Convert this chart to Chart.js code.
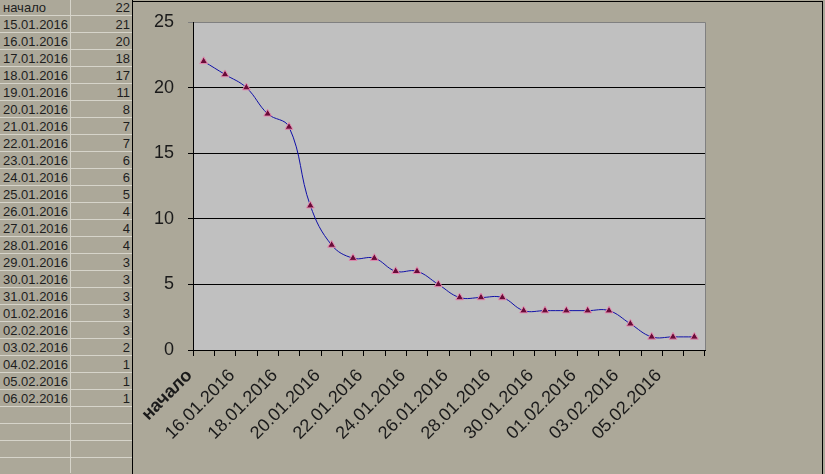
<!DOCTYPE html>
<html>
<head>
<meta charset="utf-8">
<script src="https://cdn.jsdelivr.net/npm/chart.js@4/dist/chart.umd.min.js"></script>
<style>
  html, body { margin:0; padding:0; width:825px; height:474px; overflow:hidden; background:#aca899; }
  #sheet { position:absolute; left:0; top:-1px; width:132px; height:480px; font-family:"Liberation Sans", Arial, sans-serif; font-size:13px; color:#1e1e1e; }
  .row { position:absolute; left:0; width:132px; height:16px; border-bottom:1px solid #d6d4ca; }
  .row .a { position:absolute; left:3px; top:1px; line-height:16px; }
  .row .b { position:absolute; right:2px; top:1px; line-height:16px; }
  #colline { position:absolute; left:70px; top:0; width:1px; height:474px; background:#d6d4ca; }
  #vline { position:absolute; left:132px; top:0; width:1px; height:474px; background:#000; }
  #box { position:absolute; left:133px; top:2px; width:689px; height:472px; }
  #topline { position:absolute; left:132px; top:1px; width:691px; height:1px; background:#000; }
  #rline { position:absolute; left:822px; top:1px; width:1px; height:473px; background:#000; }
</style>
</head>
<body>
<div id="sheet"><div id="colline"></div></div>
<div id="vline"></div>
<div id="topline"></div>
<div id="rline"></div>
<div id="box"><canvas id="c" width="689" height="472"></canvas></div>
<script>
const categories = ["начало","15.01.2016","16.01.2016","17.01.2016","18.01.2016","19.01.2016","20.01.2016","21.01.2016","22.01.2016","23.01.2016","24.01.2016","25.01.2016","26.01.2016","27.01.2016","28.01.2016","29.01.2016","30.01.2016","31.01.2016","01.02.2016","02.02.2016","03.02.2016","04.02.2016","05.02.2016","06.02.2016"];
const values = [22,21,20,18,17,11,8,7,7,6,6,5,4,4,4,3,3,3,3,3,2,1,1,1];
const yTicks = [0,5,10,15,20,25];

// spreadsheet rows
const sheet = document.getElementById('sheet');
const totalRows = 28;
for (let i = 0; i < totalRows; i++) {
  const r = document.createElement('div');
  r.className = 'row';
  r.style.top = (i * 17) + 'px';
  if (i < categories.length) {
    const a = document.createElement('span'); a.className = 'a'; a.textContent = categories[i];
    const b = document.createElement('span'); b.className = 'b'; b.textContent = values[i];
    r.appendChild(a); r.appendChild(b);
  }
  sheet.appendChild(r);
}

const plotBg = {
  id: 'plotBg',
  beforeDraw(chart) {
    const {ctx, chartArea: a} = chart;
    ctx.save();
    ctx.fillStyle = '#c0c0c0';
    ctx.fillRect(a.left, a.top, a.right - a.left, a.bottom - a.top);
    ctx.strokeStyle = '#808080';
    ctx.lineWidth = 1;
    ctx.beginPath();
    ctx.moveTo(Math.round(a.left) + 0.5, Math.round(a.top) + 0.5);
    ctx.lineTo(Math.round(a.right) + 0.5, Math.round(a.top) + 0.5);
    ctx.lineTo(Math.round(a.right) + 0.5, Math.round(a.bottom) + 0.5);
    ctx.stroke();
    ctx.restore();
  }
};

const FONT = '"Liberation Sans", Arial, sans-serif';

new Chart(document.getElementById('c'), {
  type: 'line',
  data: {
    labels: categories,
    datasets: [{
      data: values,
      borderColor: '#1010a8',
      borderWidth: 1,
      tension: 0.4,
      fill: false,
      pointStyle: 'triangle',
      pointRadius: 4.5,
      pointBackgroundColor: '#6a0c38',
      pointBorderColor: '#e48ab0',
      pointBorderWidth: 1
    }]
  },
  options: {
    responsive: false,
    animation: false,
    devicePixelRatio: 1,
    layout: { padding: { top: 20, right: 117, left: 0, bottom: 0 } },
    plugins: { legend: { display: false }, tooltip: { enabled: false } },
    scales: {
      x: {
        type: 'category',
        offset: true,
        grid: { offset: true, drawOnChartArea: false, drawTicks: true, tickLength: 6, color: '#000' },
        border: { color: '#000', width: 1 },
        ticks: {
          autoSkip: false,
          minRotation: 45,
          maxRotation: 45,
          padding: -5,
          color: '#1a1a1a',
          font: (ctx) => ({ family: FONT, size: 18, weight: ctx.index === 0 ? 'bold' : 'normal' }),
          callback: function(v, i) { return i % 2 === 0 ? this.getLabelForValue(v) + '    ' : ''; }
        },
        afterFit(scale) { scale.height = 124; scale.paddingLeft = 0; scale.paddingRight = 0; }
      },
      y: {
        min: 0, max: 25,
        afterBuildTicks(scale) { scale.ticks = yTicks.map(v => ({ value: v })); },
        grid: {
          drawTicks: true, tickLength: 5,
          color: (ctx) => (ctx.tick && ctx.tick.value === 25) ? '#808080' : '#000'
        },
        border: { color: '#000', width: 1 },
        ticks: { color: '#1a1a1a', padding: 14, font: { family: FONT, size: 18 } },
        afterFit(scale) { scale.width = 60; scale.paddingTop = 0; scale.paddingBottom = 0; }
      }
    }
  },
  plugins: [plotBg]
});
</script>
</body>
</html>
